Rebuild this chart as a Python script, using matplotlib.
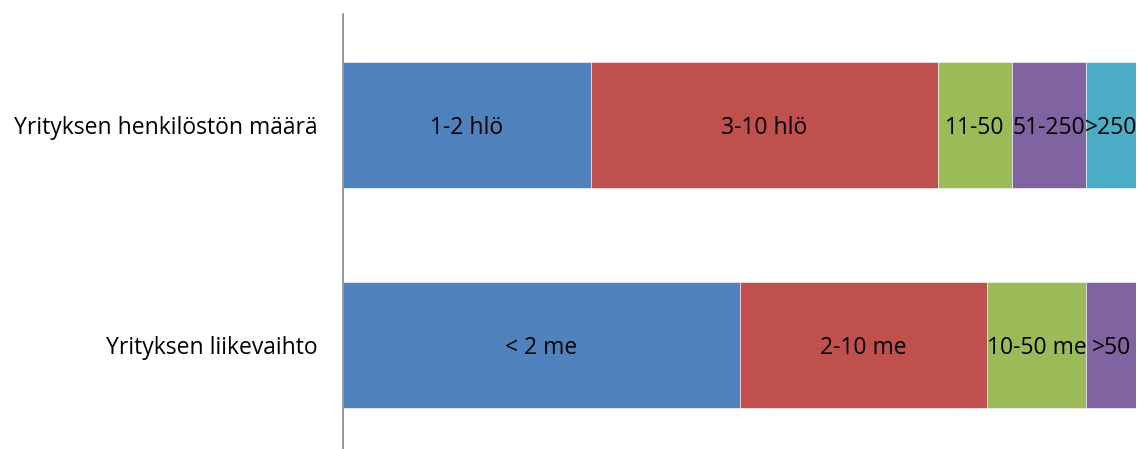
import matplotlib.pyplot as plt
import numpy as np

plt.rcParams['font.family'] = ['Open Sans', 'DejaVu Sans']

# Vastaajien jakaumat (kpl, yhteensä 32)
categories = ['Yrityksen liikevaihto', 'Yrityksen henkilöstön määrä']
staff_labels = ['1-2 hlö', '3-10 hlö', '11-50', '51-250', '>250']
staff_counts = [10, 14, 3, 3, 2]
turnover_labels = ['< 2 me', '2-10 me', '10-50 me', '>50']
turnover_counts = [16, 10, 4, 2]

colors = ['#4F81BD', '#C0504D', '#9BBB59', '#8064A2', '#4BACC6']

fig = plt.figure(figsize=(11.39, 4.49), dpi=100)
ax = fig.add_axes([343/1139, 0.0, (1136-343)/1139, 1 - 14/449])

# 100 % pinotut palkit, segmentin nimi keskelle
rows = [(0, turnover_counts, turnover_labels), (1, staff_counts, staff_labels)]
for y, counts, labels in rows:
    shares = np.array(counts) / np.sum(counts) * 100
    left = 0
    for i, (s, lab) in enumerate(zip(shares, labels)):
        ax.barh(y, s, left=left, height=0.573, color=colors[i],
                edgecolor='white', linewidth=0.4)
        ax.text(left + s / 2, y - 0.012, lab, ha='center', va='center',
                fontsize=16.5, color='black')
        left += s

ax.set_xlim(0, 100)
ax.set_ylim(-0.473, 1.505)
ax.set_yticks([0, 1])
ax.set_yticklabels(categories, fontsize=16.5)
ax.tick_params(axis='y', length=0, pad=18)
ax.set_xticks([])
for side in ['top', 'right', 'bottom']:
    ax.spines[side].set_visible(False)
ax.spines['left'].set_color('#868686')
ax.spines['left'].set_linewidth(1.2)

fig.savefig('out.png', dpi=100)
